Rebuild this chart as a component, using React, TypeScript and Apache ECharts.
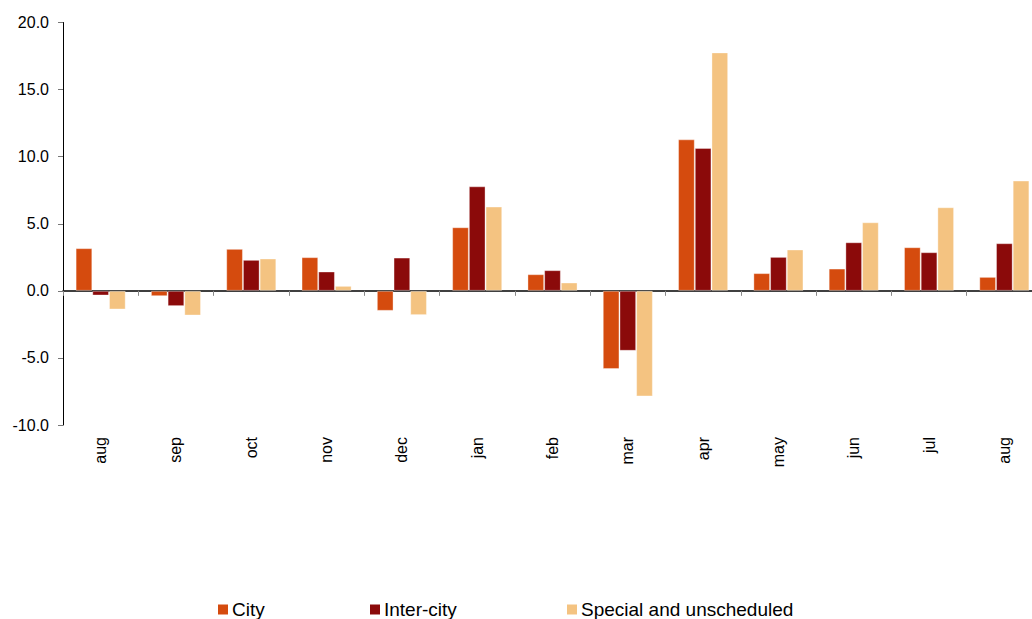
import React, { useEffect, useRef } from "react";
import * as echarts from "echarts";

const categories = ["aug", "sep", "oct", "nov", "dec", "jan", "feb", "mar", "apr", "may", "jun", "jul", "aug"];
const cityValues = [3.18, -0.4, 3.13, 2.51, -1.49, 4.74, 1.24, -5.83, 11.29, 1.32, 1.66, 3.25, 1.04];
const interCityValues = [-0.35, -1.14, 2.31, 1.44, 2.48, 7.79, 1.54, -4.47, 10.65, 2.53, 3.62, 2.88, 3.55];
const specialValues = [-1.39, -1.84, 2.41, 0.37, -1.81, 6.28, 0.62, -7.87, 17.77, 3.08, 5.11, 6.23, 8.22];
const seriesNames = ["City", "Inter-city", "Special and unscheduled"];
const colors = ["#D54B0E", "#8B0A0A", "#F4C381"];

const FONT = "'Liberation Sans', Arial, sans-serif";

export default function App() {
  const ref = useRef<HTMLDivElement>(null);
  useEffect(() => {
    if (!ref.current) return;
    const chart = echarts.init(ref.current, null, { renderer: "svg" });
    const data = [cityValues, interCityValues, specialValues];
    const legendLefts = [218, 370, 567];
    chart.setOption({
      animation: false,
      backgroundColor: "#ffffff",
      textStyle: { fontFamily: FONT },
      grid: { left: 63, right: 0, top: 22.5, bottom: 194, containLabel: false },
      legend: seriesNames.map((name, i) => ({
        left: legendLefts[i],
        top: 600,
        padding: 0,
        itemWidth: 10,
        itemHeight: 10,
        itemGap: 0,
        itemStyle: { borderWidth: 0 },
        icon: "rect",
        textStyle: { fontSize: 19, color: "#000", fontFamily: FONT, padding: [0, 0, 0, -1] },
        data: [name],
      })),
      xAxis: [
        {
          type: "category",
          data: categories,
          position: "bottom",
          axisLine: { show: false, onZero: false },
          axisTick: { show: false },
          axisLabel: {
            rotate: 90,
            margin: 12,
            fontSize: 16,
            color: "#000",
            fontFamily: FONT,
            interval: 0,
          },
        },
        {
          type: "category",
          data: categories,
          position: "top",
          axisLine: { show: true, onZero: true, lineStyle: { color: "#000", width: 1.5 } },
          axisTick: { show: true, inside: true, length: 5, lineStyle: { color: "#888" } },
          axisLabel: { show: false },
        },
      ],
      yAxis: {
        type: "value",
        min: -10,
        max: 20,
        interval: 5,
        axisLine: { show: true, lineStyle: { color: "#000", width: 1 } },
        axisTick: { show: true, length: 5, lineStyle: { color: "#777" } },
        splitLine: { show: false },
        axisLabel: {
          formatter: (v: number) => v.toFixed(1),
          fontSize: 16,
          color: "#000",
          margin: 14,
          fontFamily: FONT,
        },
      },
      series: seriesNames.map((name, i) => ({
        name,
        type: "bar",
        xAxisIndex: 0,
        data: data[i],
        barGap: "0%",
        barCategoryGap: "33.5%",
        itemStyle: {
          color: colors[i],
          borderColor: "rgba(255,255,255,0.35)",
          borderWidth: 1,
        },
      })),
    });
    return () => chart.dispose();
  }, []);
  return (
    <div
      style={{
        position: "fixed",
        left: 0,
        top: 0,
        width: 1032,
        height: 619,
        overflow: "hidden",
        background: "#fff",
      }}
    >
      <div ref={ref} style={{ width: 1042, height: 619 }} />
    </div>
  );
}
